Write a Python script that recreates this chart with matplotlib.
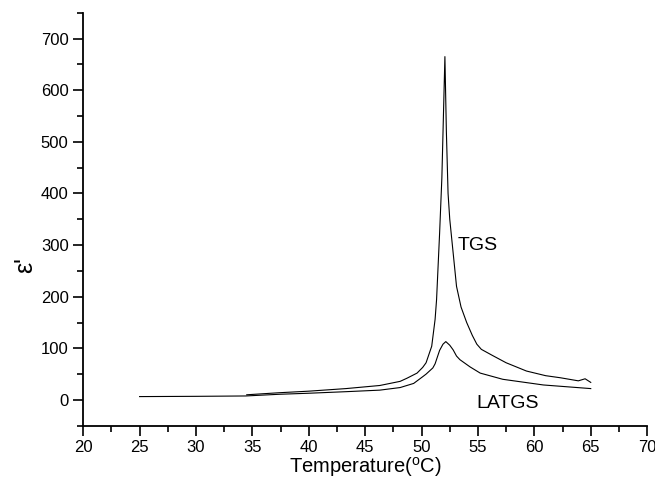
import matplotlib
matplotlib.use("Agg")
import matplotlib.pyplot as plt
from matplotlib.ticker import MultipleLocator

plt.rcParams['font.family'] = ['Liberation Sans', 'DejaVu Sans']
plt.rcParams['mathtext.fontset'] = 'custom'
plt.rcParams['mathtext.rm'] = 'Liberation Sans'

tgs_t = [34.5, 37.4, 40.0, 43.3, 46.3, 48.1, 48.7, 49.6, 50.1, 50.4, 50.9, 51.2, 51.33,
         51.6, 51.8, 51.95, 52.07, 52.2, 52.35, 52.5, 52.8, 53.1, 53.5, 54.0, 54.5,
         54.9, 55.3, 56.3, 57.5, 59.3, 61.0, 62.3, 63.9, 64.5, 65.0]
tgs_e = [10, 14, 17, 22, 28, 36, 42, 52, 63, 72, 104, 156, 194,
         323, 430, 560, 665, 520, 400, 350, 285, 220, 180, 150, 125,
         108, 98, 86, 72, 56, 47, 43, 37, 41, 34]

latgs_t = [25.0, 30.0, 34.4, 37.4, 40.0, 43.3, 46.3, 48.1, 48.7, 49.3, 50.1, 50.4,
           51.0, 51.2, 51.6, 51.9, 52.15, 52.5, 52.8, 53.1, 53.4, 54.3, 55.2, 57.2,
           60.8, 65.0]
latgs_e = [6.5, 7, 7.7, 11, 13, 16, 19, 24, 28, 32, 45, 50,
           62, 70, 96, 108, 113, 106, 97, 85, 78, 64, 52, 40,
           29, 22]

fig = plt.figure(figsize=(6.55, 4.8), dpi=100)
ax = fig.add_axes([0.127, 0.113, 0.861, 0.8605])

ax.plot(tgs_t, tgs_e, color='black', lw=0.8)
ax.plot(latgs_t, latgs_e, color='black', lw=0.8)

ax.text(55.0, 300, 'TGS', fontsize=14, ha='center', va='center')
ax.text(57.6, -6, 'LATGS', fontsize=14, ha='center', va='center')

ax.set_xlim(20, 70)
ax.set_ylim(-50, 750)
ax.xaxis.set_major_locator(MultipleLocator(5))
ax.xaxis.set_minor_locator(MultipleLocator(2.5))
ax.set_yticks([0, 100, 200, 300, 400, 500, 600, 700])
ax.yaxis.set_minor_locator(MultipleLocator(50))

for s in ['top', 'right']:
    ax.spines[s].set_visible(False)
for s in ['left', 'bottom']:
    ax.spines[s].set_linewidth(1.3)

ax.tick_params(which='major', direction='out', length=7, width=1.2, labelsize=12)
ax.tick_params(which='minor', direction='out', length=4, width=1.2)

ax.set_xlabel('Temperature($^{\\mathrm{o}}$C)', fontsize=14.5, labelpad=0)
ax.set_ylabel("ε'", fontsize=18)
ax.yaxis.set_label_coords(-0.082, 0.39)

fig.savefig('out.png', dpi=100)
